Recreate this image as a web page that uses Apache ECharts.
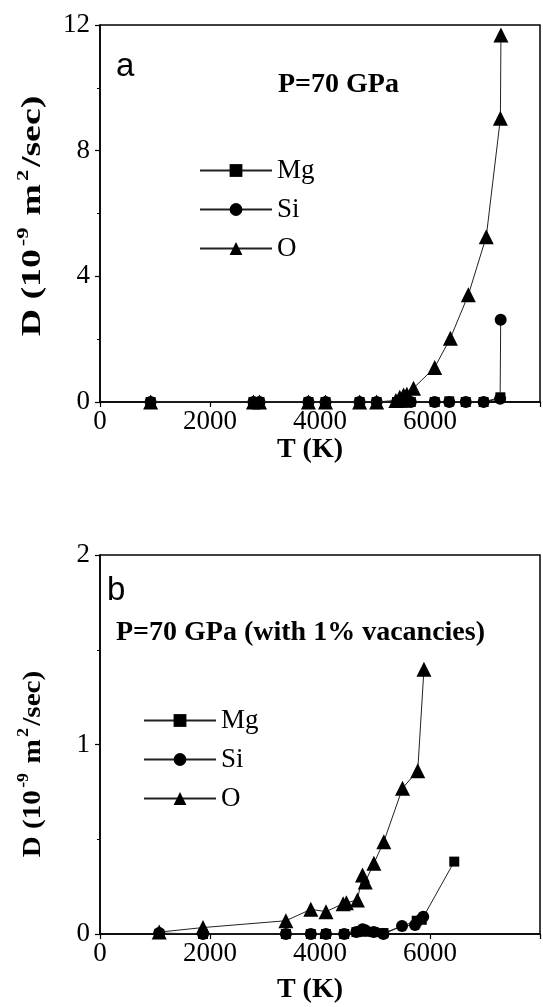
<!DOCTYPE html>
<html>
<head>
<meta charset="utf-8">
<script src="https://cdn.jsdelivr.net/npm/echarts@6/dist/echarts.min.js"></script>
<style>html,body{margin:0;padding:0;background:#fff}#c{width:543px;height:1007px}</style>
</head>
<body>
<div id="c"></div>
<script>
// ---- Panel a: P = 70 GPa ----
const A_Mg_T = [920, 2790, 2900, 3790, 4100, 4720, 5030, 5400, 5470, 5520, 5580, 5650, 6085, 6350, 6650, 6975, 7280];
const A_Mg_D = [0, 0, 0, 0, 0, 0, 0, 0, 0, 0, 0, 0, 0, 0.02, 0, 0, 0.15];
const A_Si_T = [920, 2790, 2900, 3790, 4100, 4720, 5030, 5400, 5470, 5520, 5580, 5650, 6085, 6350, 6650, 6975, 7275, 7285];
const A_Si_D = [0, 0, 0, 0, 0, 0, 0, 0, 0, 0, 0, 0, 0, 0, 0, 0, 0.1, 2.62];
const A_O_T = [920, 2790, 2900, 3790, 4100, 4720, 5030, 5380, 5450, 5520, 5580, 5700, 6085, 6370, 6697, 7023, 7280, 7290];
const A_O_D = [0, 0, 0, 0, 0, 0, 0, 0.05, 0.15, 0.22, 0.25, 0.44, 1.1, 2.03, 3.41, 5.26, 9.03, 11.68];

// ---- Panel b: P = 70 GPa with 1% vacancies ----
const B_Mg_T = [1076, 1873, 3380, 3833, 4109, 4440, 4662, 4773, 4823, 4976, 5154, 5758, 5850, 6441];
const B_Mg_D = [0, 0, 0, 0, 0, 0, 0.01, 0.015, 0.012, 0.01, 0.005, 0.07, 0.075, 0.382];
const B_Si_T = [1076, 1873, 3380, 3833, 4109, 4440, 4662, 4773, 4823, 4976, 5154, 5491, 5728, 5877];
const B_Si_D = [0.005, 0, 0, 0, 0, 0, 0.01, 0.025, 0.02, 0.01, 0, 0.042, 0.047, 0.091];
const B_O_T = [1076, 1873, 3380, 3833, 4109, 4420, 4480, 4680, 4773, 4823, 4980, 5160, 5500, 5777, 5890];
const B_O_D = [0.01, 0.034, 0.07, 0.13, 0.118, 0.16, 0.165, 0.179, 0.311, 0.275, 0.373, 0.487, 0.769, 0.862, 1.397];

const X_TICKS = [0, 2000, 4000, 6000];
const SERIES_NAMES = ['Mg', 'Si', 'O'];

const SERIF = 'Liberation Serif';
const pair = (xs, ys) => xs.map((x, i) => [x, ys[i]]);

function xAxisCfg(gi) {
  return {
    gridIndex: gi, type: 'value', min: 0, max: 8000, interval: 2000,
    axisLine: { show: true, lineStyle: { color: '#000', width: 1.5 } },
    axisTick: { show: true, inside: false, length: 5, lineStyle: { color: '#000', width: 1.2 } },
    axisLabel: { margin: 6, color: '#000', fontFamily: SERIF, fontSize: 27,
      formatter: v => (X_TICKS.indexOf(v) >= 0 ? String(v) : '') },
    splitLine: { show: false }
  };
}
function yAxisCfg(gi, max, interval) {
  return {
    gridIndex: gi, type: 'value', min: 0, max: max, interval: interval,
    axisLine: { show: true, lineStyle: { color: '#000', width: 1.5 } },
    axisTick: { show: true, inside: false, length: 5, lineStyle: { color: '#000', width: 1.2 } },
    minorTick: { show: true, splitNumber: 2, length: 3, lineStyle: { color: '#000', width: 1 } },
    axisLabel: { margin: 10, color: '#000', fontFamily: SERIF, fontSize: 27 },
    splitLine: { show: false }
  };
}

const SYM = { Mg: ['rect', 10], Si: ['circle', 12], O: ['triangle', 15] };
function ser(name, gi, data) {
  return {
    name: name, type: 'line', xAxisIndex: gi, yAxisIndex: gi, data: data,
    symbol: SYM[name][0], symbolSize: SYM[name][1], showAllSymbol: true,
    itemStyle: { color: '#000' },
    lineStyle: { color: '#222', width: 1 },
    z: name === 'O' ? 4 : (name === 'Si' ? 3 : 2)
  };
}

function rotTitle(cx, cy, fs, stretch) {
  return {
    type: 'text', x: cx, y: cy, rotation: Math.PI / 2, scaleX: stretch, scaleY: 1,
    style: {
      text: '{b|D (10}{s|-9}{b| m}{s|2}{b|/sec)}',
      align: 'center', verticalAlign: 'middle', fill: '#000',
      rich: {
        b: { fontFamily: SERIF, fontWeight: 'bold', fontSize: fs, lineHeight: fs + 4, verticalAlign: 'bottom' },
        s: { fontFamily: SERIF, fontWeight: 'bold', fontSize: Math.round(fs * 0.6), lineHeight: fs + 4, verticalAlign: 'top', padding: [0, 2, 8, 2] }
      }
    }
  };
}

const LEGEND_BASE = { data: SERIES_NAMES, orient: 'vertical', itemWidth: 72, itemHeight: 16, itemGap: 12,
  textStyle: { fontFamily: SERIF, fontSize: 27, color: '#000' }, selectedMode: false };

const option = {
  animation: false,
  backgroundColor: '#fff',
  grid: [
    { left: 100, top: 25, right: -6, height: 377, show: true, borderColor: '#000', borderWidth: 1.5 },
    { left: 100, top: 555, right: -6, height: 379, show: true, borderColor: '#000', borderWidth: 1.5 }
  ],
  xAxis: [xAxisCfg(0), xAxisCfg(1)],
  yAxis: [yAxisCfg(0, 12, 4), yAxisCfg(1, 2, 1)],
  legend: [
    Object.assign({}, LEGEND_BASE, { left: 194, top: 152 }),
    Object.assign({}, LEGEND_BASE, { left: 138, top: 702 })
  ],
  series: [
    ser('Mg', 0, pair(A_Mg_T, A_Mg_D)),
    ser('Si', 0, pair(A_Si_T, A_Si_D)),
    ser('O', 0, pair(A_O_T, A_O_D)),
    ser('Mg', 1, pair(B_Mg_T, B_Mg_D)),
    ser('Si', 1, pair(B_Si_T, B_Si_D)),
    ser('O', 1, pair(B_O_T, B_O_D))
  ],
  graphic: [
    { type: 'text', x: 116, y: 50, style: { text: 'a', fontFamily: 'Liberation Sans', fontSize: 33, fill: '#000' } },
    { type: 'text', x: 278, y: 71, style: { text: 'P=70 GPa', fontFamily: SERIF, fontWeight: 'bold', fontSize: 28, fill: '#000' } },
    { type: 'text', x: 107, y: 574, style: { text: 'b', fontFamily: 'Liberation Sans', fontSize: 33, fill: '#000' } },
    { type: 'text', x: 116, y: 619, style: { text: 'P=70 GPa (with 1% vacancies)', fontFamily: SERIF, fontWeight: 'bold', fontSize: 28, fill: '#000' } },
    { type: 'text', x: 310, y: 450, style: { text: 'T (K)', align: 'center', verticalAlign: 'middle', fontFamily: SERIF, fontWeight: 'bold', fontSize: 28, fill: '#000' } },
    { type: 'text', x: 310, y: 990, style: { text: 'T (K)', align: 'center', verticalAlign: 'middle', fontFamily: SERIF, fontWeight: 'bold', fontSize: 28, fill: '#000' } },
    rotTitle(31, 216, 27, 1.4),
    rotTitle(31, 764, 26, 1.12)
  ]
};
const chart = echarts.init(document.getElementById('c'), null, { renderer: 'canvas' });
chart.setOption(option);
</script>
</body>
</html>
